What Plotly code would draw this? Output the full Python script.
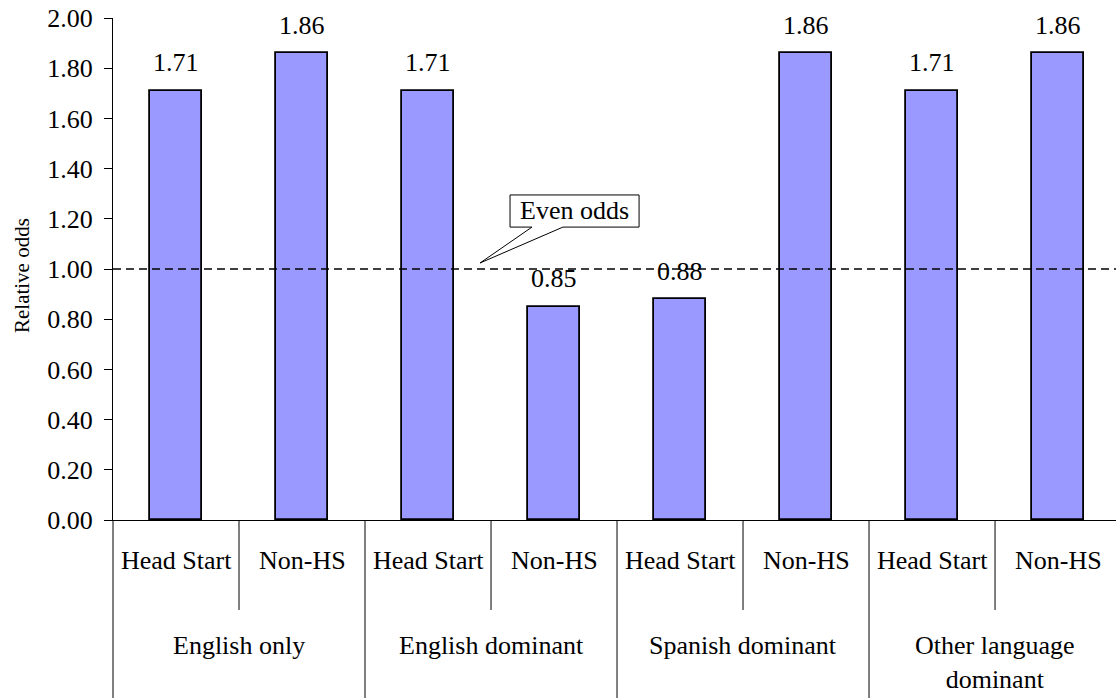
import plotly.graph_objects as go

groups = ["English only", "English dominant", "Spanish dominant", "Other language<br>dominant"]
subgroups = ["Head Start", "Non-HS"]
values = [1.71, 1.86, 1.71, 0.85, 0.88, 1.86, 1.71, 1.86]
value_labels = ["1.71", "1.86", "1.71", "0.85", "0.88", "1.86", "1.71", "1.86"]
y_ticks = [0.0, 0.2, 0.4, 0.6, 0.8, 1.0, 1.2, 1.4, 1.6, 1.8, 2.0]
even_odds = 1.0

FONT = "Liberation Serif, Times New Roman, serif"
FS = 26

xs = list(range(len(values)))
fig = go.Figure()
fig.add_trace(go.Bar(
    x=xs, y=values, width=0.41,
    marker=dict(color="#9999FF", line=dict(color="black", width=1.8)),
    hoverinfo="skip", showlegend=False,
))

annotations = []
for x, v, t in zip(xs, values, value_labels):
    annotations.append(dict(x=x, y=v, xref="x", yref="y", text=t, showarrow=False,
                            yanchor="middle", yshift=28, font=dict(family=FONT, size=FS, color="black")))
# sub labels
for i, x in enumerate(xs):
    annotations.append(dict(x=x, y=0, xref="x", yref="paper", text=subgroups[i % 2], showarrow=False,
                            yanchor="middle", yshift=-40, font=dict(family=FONT, size=FS, color="black")))
# group labels
for g, name in enumerate(groups):
    annotations.append(dict(x=2 * g + 0.5, y=0, xref="x", yref="paper", text=name, showarrow=False,
                            yanchor="top", yshift=-109, font=dict(family=FONT, size=FS, color="black")))
# y axis title
annotations.append(dict(x=0, y=0.486, xref="paper", yref="paper", text="Relative odds", showarrow=False,
                        textangle=-90, xshift=-105, font=dict(family=FONT, size=21, color="black")))

shapes = []
# inner separators
for g in range(len(groups)):
    shapes.append(dict(type="line", xref="x", yref="paper", x0=2 * g + 0.5, x1=2 * g + 0.5,
                       y0=0, y1=-90 / 502, line=dict(color="black", width=1)))
# outer separators
for g in range(1, len(groups)):
    shapes.append(dict(type="line", xref="x", yref="paper", x0=2 * g - 0.5, x1=2 * g - 0.5,
                       y0=0, y1=-180 / 502, line=dict(color="black", width=1)))
shapes.append(dict(type="line", xref="paper", yref="paper", x0=0, x1=0,
                   y0=0, y1=-180 / 502, line=dict(color="black", width=1)))
# even odds line
shapes.append(dict(type="line", xref="paper", yref="y", x0=0, x1=1, y0=even_odds, y1=even_odds,
                   line=dict(color="black", width=1.5, dash="8px,5px")))
# callout
shapes.append(dict(type="path", xref="x", yref="y",
                   path="M 2.651 1.295 L 3.675 1.295 L 3.675 1.167 L 3.071 1.167 L 2.413 1.024 L 2.825 1.167 L 2.651 1.167 Z",
                   fillcolor="white", line=dict(color="black", width=1)))
annotations.append(dict(x=3.163, y=1.233, xref="x", yref="y", text="Even odds", showarrow=False,
                        font=dict(family=FONT, size=FS, color="black")))

fig.update_layout(
    width=1116, height=698,
    margin=dict(l=113, r=0, t=18, b=178, autoexpand=False),
    paper_bgcolor="white", plot_bgcolor="white",
    font=dict(family=FONT, size=FS, color="black"),
    bargap=0,
    xaxis=dict(range=[-0.5, 7.46], showticklabels=False, ticks="", showgrid=False, zeroline=False,
               showline=True, linecolor="black", linewidth=1, automargin=False),
    yaxis=dict(range=[0, 2], tickvals=y_ticks, tickformat=".2f", ticks="outside", ticklen=8,
               tickcolor="black", showgrid=False, zeroline=False, showline=True, linecolor="black",
               linewidth=1, tickfont=dict(family=FONT, size=FS, color="black"), automargin=False,
               ticklabelstandoff=6),
    annotations=annotations, shapes=shapes,
)
fig.write_html("out.html", config={"displayModeBar": False},
               post_script="document.body.style.margin='0';document.body.style.overflow='hidden';")
